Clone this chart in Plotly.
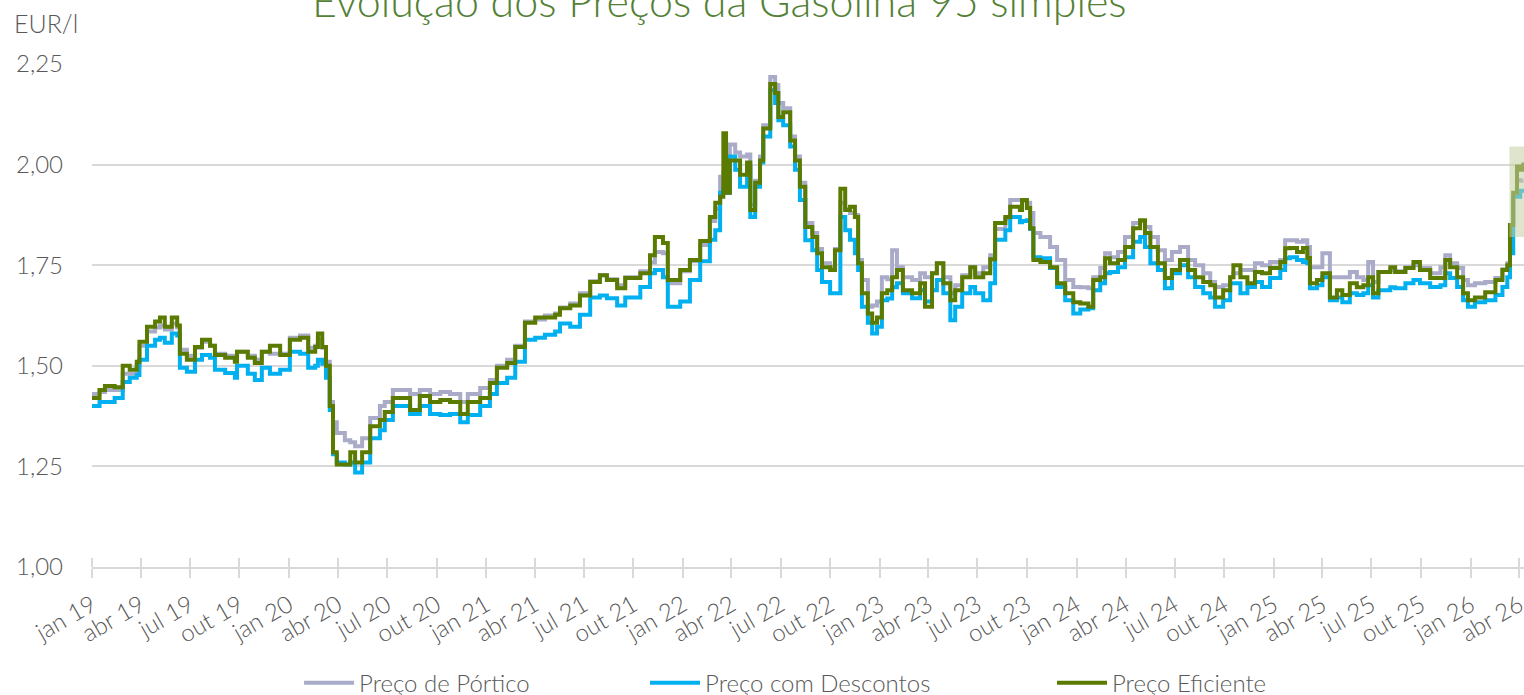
import plotly.graph_objects as go

dates = [
 "2019-01-01","2019-01-15","2019-01-25","2019-02-12","2019-02-27","2019-03-12","2019-03-25","2019-03-30",
 "2019-04-13","2019-04-28","2019-05-07","2019-05-16","2019-05-29","2019-06-08","2019-06-13","2019-06-26",
 "2019-07-11","2019-07-24","2019-08-08","2019-08-17","2019-09-05","2019-09-23","2019-09-27","2019-10-17",
 "2019-10-30","2019-11-12","2019-11-27","2019-12-16","2020-01-03","2020-01-22","2020-02-06","2020-02-19",
 "2020-02-24","2020-03-03","2020-03-10","2020-03-17","2020-03-23","2020-03-30","2020-04-14","2020-04-24",
 "2020-05-03","2020-05-16","2020-05-31","2020-06-18","2020-06-27","2020-07-12","2020-08-13","2020-08-31",
 "2020-09-19","2020-10-08","2020-10-26","2020-11-14","2020-11-28","2020-12-21","2021-01-08","2021-01-21",
 "2021-02-09","2021-02-24","2021-03-14","2021-04-02","2021-04-20","2021-05-09","2021-05-18","2021-06-06",
 "2021-06-24","2021-07-13","2021-07-31","2021-08-13","2021-09-01","2021-09-16","2021-10-14","2021-11-01",
 "2021-11-10","2021-11-25","2021-12-04","2021-12-27","2022-01-14","2022-02-02","2022-02-20","2022-03-02",
 "2022-03-11","2022-03-17","2022-03-22","2022-03-29","2022-04-08","2022-04-17","2022-04-30","2022-05-06",
 "2022-05-15","2022-05-24","2022-05-30","2022-06-12","2022-06-21","2022-06-27","2022-07-06","2022-07-19",
 "2022-07-28","2022-08-06","2022-08-16","2022-08-29","2022-09-07","2022-09-16","2022-10-01","2022-10-10",
 "2022-10-20","2022-10-29","2022-11-07","2022-11-16","2022-11-22","2022-11-29","2022-12-10","2022-12-18",
 "2022-12-27","2023-01-05","2023-01-15","2023-01-24","2023-02-02","2023-02-13","2023-03-02","2023-03-17",
 "2023-03-26","2023-04-08","2023-04-17","2023-04-29","2023-05-12","2023-05-21","2023-06-03","2023-06-18",
 "2023-06-27","2023-07-12","2023-07-25","2023-08-03","2023-08-22","2023-08-31","2023-09-18","2023-09-22",
 "2023-10-01","2023-10-07","2023-10-13","2023-10-26","2023-11-13","2023-11-26","2023-12-11","2023-12-26",
 "2024-01-08","2024-01-23","2024-02-01","2024-02-14","2024-02-23","2024-03-03","2024-03-18","2024-03-31",
 "2024-04-15","2024-04-28","2024-05-07","2024-05-17","2024-05-31","2024-06-13","2024-06-26","2024-07-11",
 "2024-07-26","2024-08-08","2024-08-23","2024-09-05","2024-09-14","2024-09-29","2024-10-12","2024-10-18",
 "2024-10-31","2024-11-13","2024-11-27","2024-12-10","2024-12-25","2025-01-13","2025-01-22","2025-01-31",
 "2025-02-13","2025-02-24","2025-03-04","2025-03-09","2025-03-22","2025-04-01","2025-04-15","2025-04-28",
 "2025-05-08","2025-05-22","2025-06-04","2025-06-16","2025-06-25","2025-07-04","2025-07-14","2025-08-05",
 "2025-08-14","2025-09-02","2025-09-17","2025-09-29","2025-10-18","2025-11-06","2025-11-15","2025-11-24",
 "2025-12-07","2025-12-18","2025-12-27","2026-01-09","2026-01-28","2026-02-16","2026-03-01","2026-03-10",
 "2026-03-15","2026-03-21","2026-03-28","2026-04-03","2026-04-09",
]

preco_portico = [
 1.43,1.435,1.44,1.44,1.48,1.48,1.50,1.55,
 1.585,1.595,1.60,1.59,1.605,1.595,1.54,1.525,
 1.545,1.56,1.55,1.53,1.525,1.515,1.535,1.525,
 1.515,1.535,1.53,1.53,1.57,1.575,1.545,1.55,
 1.565,1.545,1.51,1.41,1.36,1.333,1.315,1.31,
 1.30,1.32,1.37,1.40,1.41,1.44,1.43,1.44,
 1.43,1.435,1.43,1.41,1.43,1.445,1.465,1.50,
 1.515,1.55,1.61,1.615,1.625,1.63,1.645,1.655,
 1.68,1.71,1.725,1.715,1.70,1.72,1.735,1.757,
 1.783,1.78,1.705,1.735,1.76,1.80,1.86,1.89,
 1.97,1.98,2.00,2.05,2.03,2.02,2.025,1.90,
 1.96,2.02,2.098,2.218,2.198,2.153,2.14,2.07,
 2.02,1.955,1.855,1.83,1.79,1.755,1.745,1.79,
 1.905,1.89,1.88,1.875,1.763,1.713,1.647,1.65,
 1.66,1.72,1.715,1.787,1.745,1.72,1.713,1.73,
 1.72,1.73,1.755,1.72,1.68,1.70,1.725,1.745,
 1.73,1.745,1.775,1.84,1.865,1.912,1.912,1.91,
 1.905,1.88,1.83,1.82,1.795,1.763,1.713,1.696,
 1.695,1.693,1.72,1.743,1.78,1.77,1.783,1.82,
 1.855,1.86,1.845,1.82,1.787,1.763,1.783,1.795,
 1.763,1.75,1.73,1.708,1.696,1.70,1.72,1.73,
 1.738,1.738,1.755,1.75,1.758,1.763,1.812,1.812,
 1.808,1.812,1.795,1.745,1.745,1.78,1.72,1.72,
 1.72,1.733,1.72,1.713,1.758,1.708,1.733,1.738,
 1.735,1.745,1.75,1.743,1.73,1.745,1.775,1.755,
 1.743,1.713,1.70,1.705,1.708,1.718,1.74,1.755,
 1.85,1.925,1.962,1.96,1.96,
]

preco_descontos = [
 1.40,1.41,1.41,1.42,1.46,1.47,1.477,1.515,
 1.55,1.565,1.57,1.557,1.58,1.575,1.495,1.485,
 1.515,1.527,1.52,1.49,1.482,1.47,1.50,1.48,
 1.465,1.495,1.48,1.49,1.535,1.53,1.495,1.50,
 1.515,1.505,1.47,1.39,1.28,1.26,1.255,1.26,
 1.235,1.26,1.32,1.34,1.365,1.40,1.38,1.40,
 1.38,1.378,1.38,1.36,1.378,1.40,1.43,1.457,
 1.47,1.51,1.565,1.57,1.577,1.585,1.605,1.597,
 1.627,1.67,1.675,1.668,1.65,1.67,1.696,1.73,
 1.738,1.72,1.647,1.66,1.713,1.76,1.813,1.837,
 1.93,1.94,1.93,2.02,1.987,1.945,1.995,1.87,
 1.945,2.005,2.07,2.185,2.153,2.11,2.098,2.045,
 1.987,1.912,1.812,1.787,1.738,1.708,1.68,1.68,
 1.87,1.837,1.813,1.78,1.738,1.647,1.607,1.58,
 1.597,1.663,1.667,1.695,1.705,1.68,1.668,1.688,
 1.66,1.688,1.713,1.68,1.613,1.647,1.68,1.696,
 1.68,1.663,1.705,1.813,1.837,1.87,1.857,1.86,
 1.862,1.84,1.77,1.767,1.743,1.696,1.663,1.63,
 1.64,1.643,1.688,1.705,1.73,1.733,1.745,1.77,
 1.808,1.82,1.795,1.755,1.738,1.693,1.73,1.75,
 1.72,1.696,1.68,1.67,1.647,1.663,1.705,1.705,
 1.68,1.696,1.708,1.696,1.718,1.738,1.767,1.77,
 1.763,1.758,1.755,1.693,1.70,1.72,1.663,1.67,
 1.658,1.68,1.676,1.68,1.70,1.67,1.688,1.695,
 1.693,1.705,1.713,1.705,1.696,1.70,1.73,1.718,
 1.696,1.663,1.647,1.658,1.663,1.676,1.696,1.72,
 1.78,1.92,1.92,1.935,1.93,
]

preco_eficiente = [
 1.42,1.44,1.45,1.447,1.50,1.49,1.51,1.56,
 1.597,1.61,1.62,1.597,1.62,1.60,1.53,1.515,
 1.547,1.565,1.55,1.527,1.52,1.51,1.535,1.52,
 1.507,1.535,1.55,1.527,1.565,1.57,1.535,1.547,
 1.58,1.547,1.50,1.40,1.285,1.255,1.255,1.285,
 1.26,1.285,1.35,1.365,1.385,1.42,1.39,1.425,
 1.41,1.415,1.41,1.38,1.41,1.42,1.457,1.495,
 1.507,1.547,1.607,1.62,1.62,1.627,1.643,1.65,
 1.675,1.708,1.725,1.713,1.693,1.718,1.73,1.775,
 1.82,1.805,1.713,1.738,1.763,1.81,1.87,1.905,
 1.92,2.078,1.93,2.01,2.01,1.975,2.005,1.887,
 1.955,2.01,2.09,2.20,2.178,2.118,2.13,2.06,
 2.01,1.945,1.845,1.82,1.78,1.745,1.738,1.787,
 1.94,1.887,1.895,1.87,1.755,1.68,1.63,1.607,
 1.62,1.68,1.688,1.72,1.738,1.688,1.68,1.705,
 1.647,1.73,1.755,1.705,1.663,1.688,1.72,1.745,
 1.72,1.73,1.765,1.855,1.87,1.895,1.887,1.912,
 1.892,1.842,1.763,1.758,1.745,1.705,1.68,1.658,
 1.655,1.647,1.713,1.72,1.767,1.755,1.763,1.795,
 1.842,1.862,1.83,1.795,1.755,1.718,1.738,1.763,
 1.738,1.72,1.708,1.70,1.67,1.688,1.72,1.75,
 1.72,1.705,1.733,1.73,1.743,1.758,1.792,1.793,
 1.783,1.793,1.768,1.705,1.713,1.73,1.67,1.688,
 1.676,1.705,1.695,1.70,1.72,1.68,1.733,1.745,
 1.733,1.743,1.758,1.738,1.718,1.718,1.763,1.745,
 1.72,1.68,1.663,1.67,1.683,1.713,1.738,1.75,
 1.85,1.93,1.995,1.987,2.005,
]

tick_dates = [f"{y}-{m:02d}-01" for y in range(2019, 2027) for m in (1, 4, 7, 10)][:30]
tick_labels = [f"{mes} {str(y)[2:]}" for y in range(2019, 2027) for mes in ("jan", "abr", "jul", "out")][:30]

series_names = ["Preço de Pórtico", "Preço com Descontos", "Preço Eficiente"]
series_colors = ["#a9abc9", "#00b0f0", "#5b7b00"]
series_widths = [4, 4, 4]
legend_ids = ["legend", "legend2", "legend3"]
legend_x = [0.1446, 0.3862, 0.6704]

highlight_x = ["2026-03-14", "2026-04-10"]
highlight_y = [1.82, 2.045]

FONT = "Lato"
GREY = "#595959"

fig = go.Figure()
for name, vals, col, w, lg in zip(series_names, [preco_portico, preco_descontos, preco_eficiente],
                                  series_colors, series_widths, legend_ids):
    fig.add_trace(go.Scatter(x=dates, y=vals, name=name, mode="lines", legend=lg,
                             line=dict(color=col, width=w, shape="hv")))

fig.add_shape(type="rect", xref="x", yref="y", x0=highlight_x[0], x1=highlight_x[1],
              y0=highlight_y[0], y1=highlight_y[1], fillcolor="#c3cfa3", opacity=0.55,
              line=dict(width=0), layer="above")

legend_common = dict(orientation="h", xanchor="left", y=-0.231, yanchor="middle",
                     font=dict(family=FONT, size=24, color=GREY, weight=300),
                     itemwidth=50, bgcolor="rgba(0,0,0,0)")

fig.update_layout(
    width=1524, height=695,
    margin=dict(l=92, r=0, t=64, b=128, autoexpand=False),
    paper_bgcolor="white", plot_bgcolor="white",
    separators=",.",
    font=dict(family=FONT, size=24, color=GREY),
    showlegend=True,
    legend=dict(x=legend_x[0], **legend_common),
    legend2=dict(x=legend_x[1], **legend_common),
    legend3=dict(x=legend_x[2], **legend_common),
    xaxis=dict(type="date", range=["2019-01-01", "2026-04-10"], automargin=False,
               tickvals=tick_dates, ticktext=tick_labels, tickangle=-30,
               ticklabeloverflow="allow", ticklabelstandoff=4,
               tickfont=dict(family=FONT, size=24, color=GREY, weight=300),
               showgrid=False, showline=True, linecolor="#d9d9d9", linewidth=1.5,
               ticks="outside", ticklen=9, tickcolor="#d9d9d9", tickwidth=1.5,
               minor=dict(ticks="inside", tickvals=tick_dates, ticklen=9,
                          tickcolor="#d9d9d9", tickwidth=1.5, showgrid=False),
               zeroline=False),
    yaxis=dict(range=[1.0, 2.25], tickvals=[1.0, 1.25, 1.5, 1.75, 2.0, 2.25],
               tickformat=".2f", automargin=False,
               tickfont=dict(family=FONT, size=24, color=GREY, weight=300),
               showgrid=True, gridcolor="#d9d9d9", gridwidth=1.5,
               zeroline=False, showline=False, ticks="", ticklabelstandoff=28),
)

fig.add_annotation(text="Evolução dos Preços da Gasolina 95 simples", xref="paper", yref="paper",
                   x=0.4385, y=1.072, xanchor="center", yanchor="bottom", showarrow=False,
                   font=dict(family=FONT, size=43, color="#538135", weight=300))
fig.add_annotation(text="EUR/l", xref="paper", yref="paper", x=-0.0559, y=1.0815,
                   xanchor="left", yanchor="middle", showarrow=False,
                   font=dict(family=FONT, size=25, color=GREY, weight=300))

fig.write_html("out.html", config={"displayModeBar": False},
               post_script="document.body.style.margin='0';")
